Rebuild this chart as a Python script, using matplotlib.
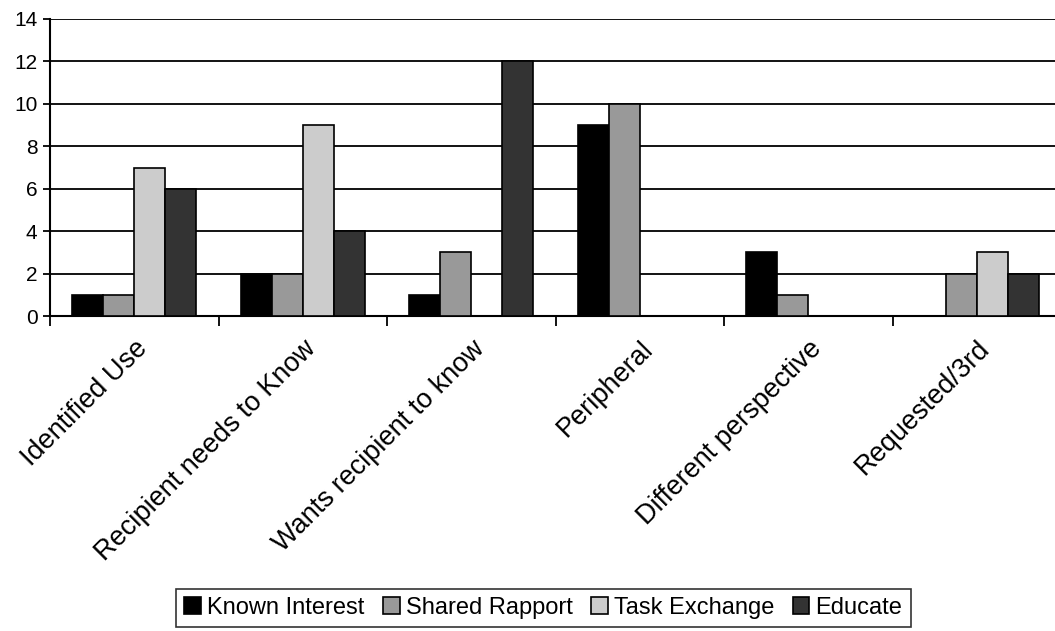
import numpy as np
import matplotlib
matplotlib.use('Agg')
import matplotlib.pyplot as plt

plt.rcParams['font.family'] = ['Liberation Sans', 'DejaVu Sans']

categories = ['Identified Use', 'Recipient needs to Know', 'Wants recipient to know',
              'Peripheral', 'Different perspective', 'Requested/3rd']
series = ['Known Interest', 'Shared Rapport', 'Task Exchange', 'Educate']
known_interest = [1, 2, 1, 9, 3, 0]
shared_rapport = [1, 2, 3, 10, 1, 2]
task_exchange = [7, 9, 0, 0, 0, 3]
educate = [6, 4, 12, 0, 0, 2]
colors = ['#000000', '#999999', '#cccccc', '#333333']

values = [known_interest, shared_rapport, task_exchange, educate]

fig = plt.figure(figsize=(10.55, 6.31), dpi=100)
ax = fig.add_axes([50/1055, 1 - 316/631, 1 - 50/1055 + 0.006, (316 - 19)/631])

x = np.arange(len(categories))
w = 0.184
for i, (vals, c) in enumerate(zip(values, colors)):
    ax.bar(x + (i - 1.5) * w, vals, width=w, color=c, edgecolor='black',
           linewidth=1.2, label=series[i], zorder=3)

ax.set_ylim(0, 14)
ax.set_xlim(-0.5, len(categories) - 0.5)
ax.set_yticks(range(0, 15, 2))
ax.yaxis.grid(True, color='black', linewidth=1.3, zorder=0)
ax.set_axisbelow(True)

# ticks at category boundaries, labels at centres
ax.set_xticks(np.arange(len(categories) + 1) - 0.5)
ax.set_xticklabels([])
ax.set_xticks(x, minor=True)
ax.set_xticklabels(categories, minor=True, rotation=45, ha='right',
                   rotation_mode='anchor', fontsize=19.5)
ax.tick_params(axis='x', which='minor', length=0, pad=14)
ax.tick_params(axis='x', which='major', length=7, width=1.3, direction='out')
ax.tick_params(axis='y', length=5, width=1.3, labelsize=15, pad=4)

for s in ['top', 'right']:
    ax.spines[s].set_visible(False)
ax.spines['left'].set_linewidth(1.5)
ax.spines['bottom'].set_linewidth(1.5)

leg = fig.legend(loc='center', bbox_to_anchor=(0.515, 0.0365), ncol=4,
                 fontsize=17, frameon=True, fancybox=False, edgecolor='black',
                 handlelength=0.7, handleheight=0.7, handletextpad=0.25,
                 columnspacing=0.8, borderpad=0.35)
leg.get_frame().set_linewidth(1.2)

fig.savefig('out.png', dpi=100)
